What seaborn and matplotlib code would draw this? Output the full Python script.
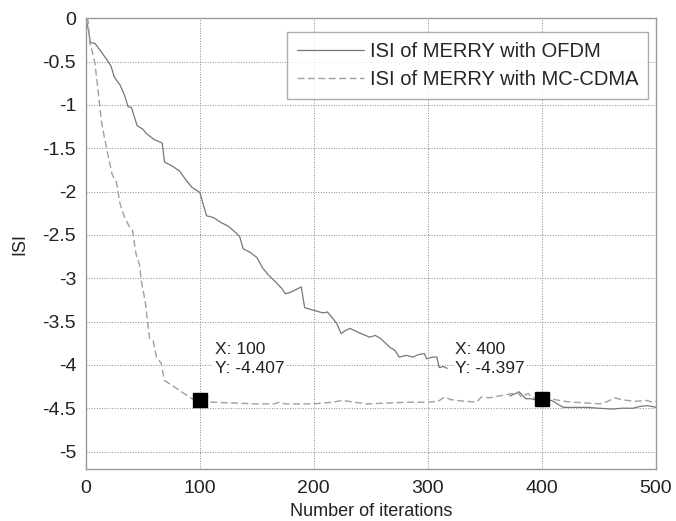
import numpy as np
import pandas as pd
import matplotlib
matplotlib.use('Agg')
import matplotlib.pyplot as plt
import seaborn as sns

# OFDM curve (solid), two visible pieces
ofdm_x1 = [0, 2, 4, 8, 12, 18, 22, 25, 30, 34, 37, 40, 45, 50, 53, 60, 67, 69, 75, 82, 88, 93, 100,
           103, 106, 112, 119, 125, 132, 135, 138, 144, 150, 155, 160, 167, 172, 175, 180, 186, 189,
           192, 200, 208, 212, 217, 220, 224, 228, 232, 240, 249, 254, 258, 263, 267, 271, 275, 281,
           287, 292, 297, 299, 304, 308, 310, 314, 317]
ofdm_y1 = [0, -0.12, -0.28, -0.29, -0.36, -0.47, -0.55, -0.68, -0.77, -0.89, -1.02, -1.03, -1.24, -1.28,
           -1.33, -1.40, -1.44, -1.66, -1.70, -1.76, -1.87, -1.95, -2.01, -2.15, -2.28, -2.30, -2.36,
           -2.40, -2.48, -2.52, -2.66, -2.70, -2.76, -2.88, -2.96, -3.05, -3.12, -3.18, -3.16, -3.12,
           -3.10, -3.34, -3.37, -3.40, -3.39, -3.47, -3.52, -3.64, -3.60, -3.58, -3.63, -3.68, -3.66,
           -3.69, -3.75, -3.80, -3.83, -3.91, -3.89, -3.91, -3.88, -3.87, -3.93, -3.91, -3.91, -4.03,
           -4.02, -4.04]
ofdm_x2 = [372, 377, 380, 383, 386, 390, 394, 400, 406, 410, 415, 419, 430, 440, 450, 462, 470, 480,
           486, 492, 497, 500]
ofdm_y2 = [-4.36, -4.33, -4.31, -4.35, -4.39, -4.39, -4.40, -4.397, -4.40, -4.42, -4.46, -4.49, -4.49,
           -4.49, -4.50, -4.51, -4.50, -4.50, -4.48, -4.47, -4.48, -4.49]

# MC-CDMA curve (dashed)
cdma_x = [0, 2, 3.5, 5, 8, 11, 14, 18, 23, 27, 30, 34, 38, 41, 42, 44, 47, 49, 52, 54, 56, 59, 62,
          66, 69, 76, 85, 93, 100, 111, 130, 150, 165, 170, 175, 199, 217, 225, 246, 265, 284, 300,
          309, 315, 320, 325, 343, 347, 354, 362, 370, 375, 379, 382, 388, 392, 400, 406, 411, 420,
          427, 440, 451, 458, 464, 470, 475, 482, 492, 497, 500]
cdma_y = [0, -0.03, -0.29, -0.35, -0.52, -0.87, -1.22, -1.49, -1.80, -1.90, -2.14, -2.30, -2.40,
          -2.45, -2.54, -2.72, -2.84, -3.06, -3.26, -3.49, -3.70, -3.72, -3.91, -3.98, -4.18, -4.24,
          -4.32, -4.39, -4.407, -4.43, -4.44, -4.45, -4.45, -4.43, -4.45, -4.45, -4.43, -4.41, -4.45,
          -4.44, -4.43, -4.43, -4.42, -4.37, -4.40, -4.41, -4.43, -4.37, -4.38, -4.36, -4.34, -4.33,
          -4.32, -4.37, -4.33, -4.38, -4.397, -4.38, -4.40, -4.42, -4.43, -4.44, -4.45, -4.42, -4.38,
          -4.40, -4.41, -4.42, -4.41, -4.43, -4.42]

tip_x = [100, 400]
tip_y = [-4.407, -4.397]
tip_text = ['X: 100\nY: -4.407', 'X: 400\nY: -4.397']

sns.set_style('white')
plt.rcParams['font.family'] = ['Liberation Sans', 'DejaVu Sans']

fig = plt.figure(figsize=(6.76, 5.21), dpi=100)
ax = fig.add_axes([0.127, 0.100, 0.843, 0.865])

seg1 = pd.DataFrame({'x': ofdm_x1, 'y': ofdm_y1})
seg2 = pd.DataFrame({'x': ofdm_x2, 'y': ofdm_y2})
cdma = pd.DataFrame({'x': cdma_x, 'y': cdma_y})

sns.lineplot(data=seg1, x='x', y='y', ax=ax, color='#777777', lw=0.9, label='ISI of MERRY with OFDM')
sns.lineplot(data=seg2, x='x', y='y', ax=ax, color='#777777', lw=0.9)
sns.lineplot(data=cdma, x='x', y='y', ax=ax, color='#a0a0a0', lw=1.0, dashes=False,
             label='ISI of MERRY with MC-CDMA').lines[-1].set_dashes((5, 2.5))

ax.plot(tip_x, tip_y, 's', color='black', ms=9.5, ls='none')
for tx, txt in zip([113, 324], tip_text):
    ax.text(tx, -3.73, txt, fontsize=12.5, va='top', ha='left', linespacing=1.35,
            color='#222222', bbox=dict(facecolor='white', edgecolor='none', pad=1))

ax.set_xlim(0, 500)
ax.set_ylim(-5.2, 0)
ax.set_xticks([0, 100, 200, 300, 400, 500])
ax.set_yticks([0, -0.5, -1, -1.5, -2, -2.5, -3, -3.5, -4, -4.5, -5])
ax.set_yticklabels(['0', '-0.5', '-1', '-1.5', '-2', '-2.5', '-3', '-3.5', '-4', '-4.5', '-5'])
ax.grid(True, color='#888888', ls=':', lw=0.7)
ax.tick_params(direction='in', length=3, labelsize=14, colors='#999999', labelcolor='#222222', pad=7)
ax.tick_params(axis='x', pad=8)
for s in ax.spines.values():
    s.set_color('#999999')
    s.set_linewidth(1.0)

ax.set_xlabel('Number of iterations', fontsize=13, color='#222222', labelpad=4)
ax.set_ylabel('ISI', fontsize=13, color='#222222', labelpad=10)

leg = ax.legend(loc='upper right', fontsize=14.5, frameon=True, fancybox=False, handlelength=3.3,
                handletextpad=0.3, bbox_to_anchor=(0.987, 0.97), borderaxespad=0, labelspacing=0.45,
                borderpad=0.5)
leg.get_frame().set_edgecolor('#999999')
leg.get_frame().set_linewidth(1.0)

plt.savefig('out.png', dpi=100)
